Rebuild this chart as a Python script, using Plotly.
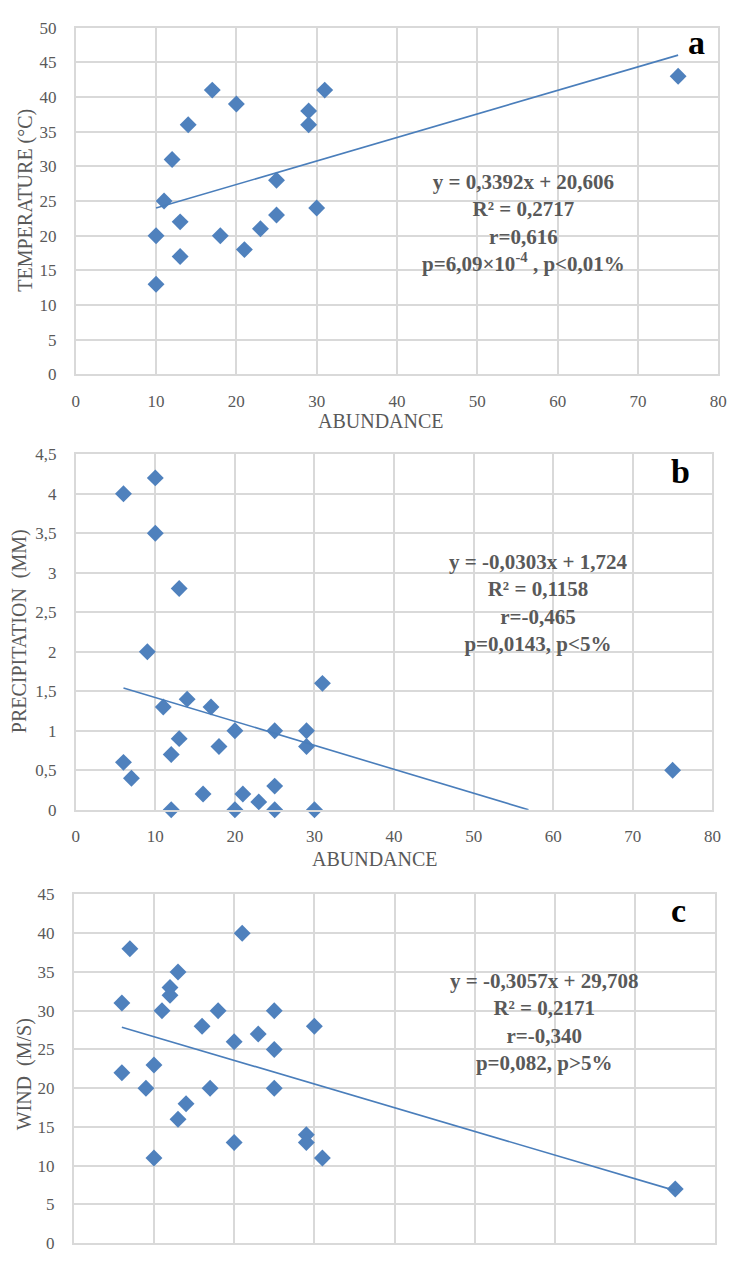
import plotly.graph_objects as go

# ---- data ----
a_abund = [10, 10, 11, 12, 13, 13, 14, 17, 18, 20, 21, 23, 25, 25, 29, 29, 30, 31, 75]
a_temp = [13, 20, 25, 31, 22, 17, 36, 41, 20, 39, 18, 21, 28, 23, 38, 36, 24, 41, 43]
a_fit = (0.3392, 20.606)

b_abund = [6, 6, 7, 9, 10, 10, 11, 12, 12, 13, 13, 14, 16, 17, 18, 20, 20, 21, 23, 25, 25, 25, 29, 29, 30, 31, 75]
b_prec = [4.0, 0.6, 0.4, 2.0, 4.2, 3.5, 1.3, 0.7, 0.0, 2.8, 0.9, 1.4, 0.2, 1.3, 0.8, 1.0, 0.0, 0.2, 0.1, 1.0, 0.3, 0.0, 1.0, 0.8, 0.0, 1.6, 0.5]
b_fit = (-0.0303, 1.724)

c_abund = [6, 6, 7, 9, 10, 10, 11, 12, 12, 13, 13, 14, 16, 17, 18, 20, 20, 21, 23, 25, 25, 25, 29, 29, 30, 31, 75]
c_wind = [31, 22, 38, 20, 23, 11, 30, 33, 32, 35, 16, 18, 28, 20, 30, 26, 13, 40, 27, 30, 25, 20, 14, 13, 28, 11, 7]
c_fit = (-0.3057, 29.708)

stats_a = "y = 0,3392x + 20,606<br>R² = 0,2717<br>r=0,616<br>p=6,09×10<sup>-4</sup> , p<0,01%"
stats_b = "y = -0,0303x + 1,724<br>R² = 0,1158<br>r=-0,465<br>p=0,0143, p<5%"
stats_c = "y = -0,3057x + 29,708<br>R² = 0,2171<br>r=-0,340<br>p=0,082, p>5%"

W, H = 744, 1264
MARK = "#4F81BD"
LINE = "#4A7EBB"
GRID = "#D9D9D9"
TXT = "#595959"
FONT = "Liberation Serif, Times New Roman, DejaVu Serif, serif"


def fit_line(xs, coef, clip_zero=False):
    m, b = coef
    x0, x1 = min(xs), max(xs)
    if clip_zero and m < 0 and m * x1 + b < 0:
        x1 = -b / m
    return [x0, x1], [m * x0 + b, m * x1 + b]


fig = go.Figure()

panels = [
    (a_abund, a_temp, a_fit, "x", "y", False),
    (b_abund, b_prec, b_fit, "x2", "y2", True),
    (c_abund, c_wind, c_fit, "x3", "y3", False),
]
for xs, ys, coef, xa, ya, clip in panels:
    fig.add_trace(go.Scatter(x=xs, y=ys, mode="markers", xaxis=xa, yaxis=ya,
                             marker=dict(symbol="diamond", size=13, color=MARK),
                             cliponaxis=False, showlegend=False))
    lx, ly = fit_line(xs, coef, clip)
    fig.add_trace(go.Scatter(x=lx, y=ly, mode="lines", xaxis=xa, yaxis=ya,
                             line=dict(color=LINE, width=1.6),
                             showlegend=False))


def px_dom(a, b):
    return [a / W, b / W]


def py_dom(top, bottom):
    return [1 - bottom / H, 1 - top / H]


axis_common = dict(showgrid=True, gridcolor=GRID, gridwidth=1.5,
                   showline=True, mirror=True, linecolor=GRID, linewidth=1.5,
                   zeroline=False, ticks="",
                   tickfont=dict(family=FONT, size=17, color=TXT))

fig.update_layout(
    width=W, height=H,
    margin=dict(l=0, r=0, t=0, b=0),
    paper_bgcolor="white", plot_bgcolor="white",
    separators=",.",
    xaxis=dict(domain=px_dom(73, 727), range=[0, 80], dtick=10, anchor="y",
               ticklabelstandoff=10, **axis_common),
    yaxis=dict(domain=py_dom(19, 371), range=[0, 50], dtick=5, anchor="x",
               ticklabelstandoff=14, **axis_common),
    xaxis2=dict(domain=px_dom(73, 721), range=[0, 80], dtick=10, anchor="y2",
                ticklabelstandoff=10, **axis_common),
    yaxis2=dict(domain=py_dom(452, 813), range=[0, 4.5], dtick=0.5, anchor="x2",
                ticklabelstandoff=14, **axis_common),
    xaxis3=dict(domain=px_dom(71, 724), range=[0, 80], dtick=10, anchor="y3",
                showticklabels=False, **axis_common),
    yaxis3=dict(domain=py_dom(899, 1253), range=[0, 45], dtick=5, anchor="x3",
                ticklabelstandoff=14, **axis_common),
)

ann = []


def add_text(x, y, text, size, color, bold=False, angle=0):
    ann.append(dict(x=x / W, y=1 - y / H, xref="paper", yref="paper",
                    text=f"<b>{text}</b>" if bold else text, showarrow=False,
                    textangle=angle, xanchor="center", yanchor="middle",
                    font=dict(family=FONT, size=size, color=color)))


# axis titles
add_text(21, 194, "TEMPERATURE (°C)", 20, TXT, angle=-90)
add_text(384, 418, "ABUNDANCE", 20, TXT)
add_text(16, 632, "PRECIPITATION  (MM)", 20, TXT, angle=-90)
add_text(378, 863, "ABUNDANCE", 20, TXT)
add_text(21, 1082, "WIND  (M/S)", 20, TXT, angle=-90)

# regression statistics
add_text(529, 217, stats_a, 21, TXT, bold=True)
add_text(543, 603, stats_b, 21, TXT, bold=True)
add_text(550, 1028, stats_c, 21, TXT, bold=True)

# panel letters
add_text(705, 34, "a", 34, "black", bold=True)
add_text(689, 470, "b", 34, "black", bold=True)
add_text(687, 915, "c", 34, "black", bold=True)

fig.update_layout(annotations=ann)

fig.write_html("out.html")
